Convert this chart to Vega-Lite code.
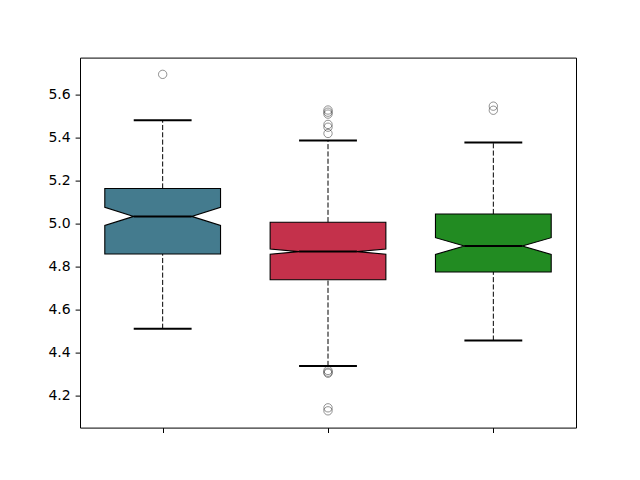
{
  "$schema": "https://vega.github.io/schema/vega-lite/v6.json",
  "width": 496,
  "height": 370,
  "autosize": "none",
  "padding": {"left": 80, "top": 57.6, "right": 64, "bottom": 52.4},
  "background": "white",
  "config": {"view": {"stroke": "black", "strokeWidth": 1}},
  "datasets": {
    "stats": [
      {"g": 1, "q1": 4.859, "nlo": 4.992, "med": 5.034, "nhi": 5.076, "q3": 5.164, "wlo": 4.511, "whi": 5.481},
      {"g": 2, "q1": 4.739, "nlo": 4.858, "med": 4.870, "nhi": 4.882, "q3": 5.007, "wlo": 4.338, "whi": 5.387},
      {"g": 3, "q1": 4.775, "nlo": 4.857, "med": 4.896, "nhi": 4.935, "q3": 5.045, "wlo": 4.456, "whi": 5.378}
    ],
    "fliers": [
      {"g": 1, "v": 5.695},
      {"g": 2, "v": 5.529},
      {"g": 2, "v": 5.519},
      {"g": 2, "v": 5.510},
      {"g": 2, "v": 5.462},
      {"g": 2, "v": 5.449},
      {"g": 2, "v": 5.420},
      {"g": 2, "v": 4.317},
      {"g": 2, "v": 4.309},
      {"g": 2, "v": 4.304},
      {"g": 2, "v": 4.143},
      {"g": 2, "v": 4.129},
      {"g": 3, "v": 5.547},
      {"g": 3, "v": 5.528}
    ]
  },
  "data": {"name": "stats"},
  "transform": [
    {"calculate": "datum.g - 0.175", "as": "cl"},
    {"calculate": "datum.g + 0.175", "as": "ch"}
  ],
  "layer": [
    {
      "mark": {"type": "rule", "color": "black", "strokeWidth": 1, "strokeDash": [5.1, 2.2]},
      "encoding": {
        "x": {"field": "g", "type": "quantitative", "scale": {"domain": [0.5, 3.5], "nice": false, "zero": false},
          "axis": {"values": [1, 2, 3], "labels": false, "title": null, "grid": false, "domain": false, "tickColor": "black", "tickSize": 4.9, "tickWidth": 1}},
        "y": {"field": "q3", "type": "quantitative", "scale": {"domain": [4.051, 5.773], "nice": false, "zero": false},
          "axis": {"values": [4.2, 4.4, 4.6, 4.8, 5.0, 5.2, 5.4, 5.6], "format": ".1f", "title": null, "grid": false, "domain": false,
            "labelFont": "DejaVu Sans", "labelFontSize": 14, "labelColor": "black", "tickColor": "black", "tickSize": 4.9, "tickWidth": 1, "labelPadding": 4.9}},
        "y2": {"field": "whi"}
      }
    },
    {
      "mark": {"type": "rule", "color": "black", "strokeWidth": 1, "strokeDash": [5.1, 2.2]},
      "encoding": {
        "x": {"field": "g", "type": "quantitative"},
        "y": {"field": "wlo", "type": "quantitative"},
        "y2": {"field": "q1"}
      }
    },
    {
      "transform": [{"fold": ["wlo", "whi"], "as": ["k", "v"]}],
      "mark": {"type": "rule", "color": "black", "strokeWidth": 2},
      "encoding": {
        "x": {"field": "cl", "type": "quantitative"},
        "x2": {"field": "ch"},
        "y": {"field": "v", "type": "quantitative"}
      }
    },
    {
      "transform": [
        {"fold": ["q1", "nlo", "med", "nhi", "q3"], "as": ["k", "v"]},
        {"calculate": "datum.g - (datum.k == 'med' ? 0.175 : 0.35)", "as": "lo"},
        {"calculate": "datum.g + (datum.k == 'med' ? 0.175 : 0.35)", "as": "hi"}
      ],
      "mark": {"type": "area", "orient": "horizontal", "stroke": "black", "strokeWidth": 1.1, "opacity": 1},
      "encoding": {
        "y": {"field": "v", "type": "quantitative"},
        "x": {"field": "lo", "type": "quantitative", "stack": null},
        "x2": {"field": "hi"},
        "color": {"field": "g", "type": "nominal", "scale": {"range": ["#447b8e", "#c4314b", "#228b22"]}, "legend": null}
      }
    },
    {
      "mark": {"type": "rule", "color": "black", "strokeWidth": 2},
      "encoding": {
        "x": {"field": "cl", "type": "quantitative"},
        "x2": {"field": "ch"},
        "y": {"field": "med", "type": "quantitative"}
      }
    },
    {
      "data": {"name": "fliers"},
      "mark": {"type": "point", "shape": "circle", "filled": false, "stroke": "black", "strokeOpacity": 0.6, "strokeWidth": 1, "size": 70},
      "encoding": {
        "x": {"field": "g", "type": "quantitative"},
        "y": {"field": "v", "type": "quantitative"}
      }
    }
  ]
}
